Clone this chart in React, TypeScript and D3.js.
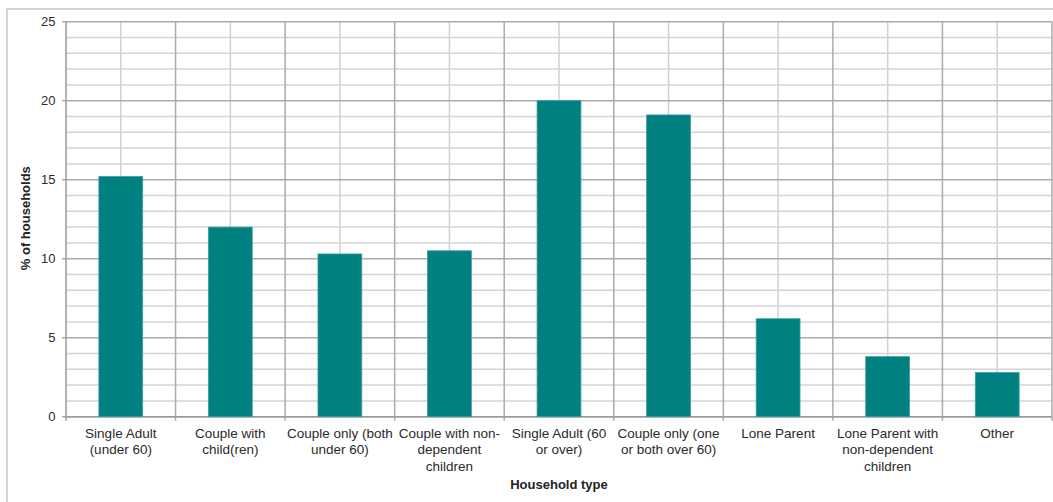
import React from "react";
import * as d3 from "d3";

const categories: string[][] = [
  ["Single Adult", "(under 60)"],
  ["Couple with", "child(ren)"],
  ["Couple only (both", "under 60)"],
  ["Couple with non-", "dependent", "children"],
  ["Single Adult (60", "or over)"],
  ["Couple only (one", "or both over 60)"],
  ["Lone Parent"],
  ["Lone Parent with", "non-dependent", "children"],
  ["Other"],
];
const values: number[] = [15.2, 12.0, 10.3, 10.5, 20.0, 19.1, 6.2, 3.8, 2.8];
const yTicks: number[] = [0, 5, 10, 15, 20, 25];
const yMinor: number[] = d3.range(0, 26, 1);
const yTitle = "% of households";
const xTitle = "Household type";

const W = 1053;
const H = 502;
const left = 66;
const right = 1052;
const top = 21.7;
const bottom = 416.7;

export default function App() {
  const keys = categories.map((_, i) => String(i));
  const x = d3.scaleBand<string>().domain(keys).range([left, right]).paddingInner(0.6).paddingOuter(0.3);
  const xb = d3.scaleBand<string>().domain(keys).range([left, right]).padding(0);
  const y = d3.scaleLinear().domain([0, 25]).range([bottom, top]);
  const font = "'Liberation Sans', Arial, sans-serif";

  return (
    <svg width={W} height={H} style={{ position: "absolute", left: 0, top: 0 }} fontFamily={font}>
      <rect x={0} y={0} width={W} height={H} fill="#fff" />
      <rect x={7} y={9} width={1100} height={700} fill="none" stroke="#c8c8c8" strokeWidth={1.5} />
      {/* minor horizontal grid */}
      {yMinor.filter((v) => v % 5 !== 0).map((v) => (
        <line key={"mi" + v} x1={left} x2={right} y1={y(v)} y2={y(v)} stroke="#d4d4d4" strokeWidth={1.5} />
      ))}
      {/* vertical center lines */}
      {keys.map((k) => (
        <line key={"vc" + k} x1={xb(k)! + xb.bandwidth() / 2} x2={xb(k)! + xb.bandwidth() / 2} y1={top} y2={bottom} stroke="#d0d0d0" strokeWidth={1.5} />
      ))}
      {/* major horizontal grid */}
      {yTicks.map((v) => (
        <line key={"ma" + v} x1={left - 4} x2={right} y1={y(v)} y2={y(v)} stroke="#ababab" strokeWidth={1.5} />
      ))}
      {/* vertical boundaries */}
      {keys.map((k, i) => (
        <line key={"vb" + k} x1={xb(k)!} x2={xb(k)!} y1={top} y2={bottom + 4} stroke={i === 0 ? "#9a9a9a" : "#ababab"} strokeWidth={1.5} />
      ))}
      <line x1={right} x2={right} y1={top} y2={bottom + 4} stroke="#ababab" strokeWidth={1.5} />
      <line x1={left} x2={right} y1={bottom} y2={bottom} stroke="#9a9a9a" strokeWidth={1.5} />
      {/* bars */}
      {values.map((v, i) => (
        <rect key={"b" + i} x={x(keys[i])!} y={y(v)} width={x.bandwidth()} height={bottom - y(v)} fill="#008080" stroke="#3a9e9e" strokeWidth={0.8} />
      ))}
      {/* y tick labels */}
      {yTicks.map((v) => (
        <text key={"yt" + v} x={55.5} y={y(v)} dy="0.35em" textAnchor="end" fontSize={13} fill="#2a2a2a">{v}</text>
      ))}
      {/* x labels */}
      {categories.map((lines, i) => (
        <text key={"xl" + i} textAnchor="middle" fontSize={13.5} fill="#2a2a2a">
          {lines.map((ln, j) => (
            <tspan key={j} x={xb(keys[i])! + xb.bandwidth() / 2} y={437.5 + j * 16.5}>{ln}</tspan>
          ))}
        </text>
      ))}
      <text x={559} y={489} textAnchor="middle" fontSize={13} fontWeight="bold" fill="#222">{xTitle}</text>
      <text transform={`translate(29.5,${(top + bottom) / 2 - 1}) rotate(-90)`} textAnchor="middle" fontSize={13} fontWeight="bold" fill="#222">{yTitle}</text>
    </svg>
  );
}
